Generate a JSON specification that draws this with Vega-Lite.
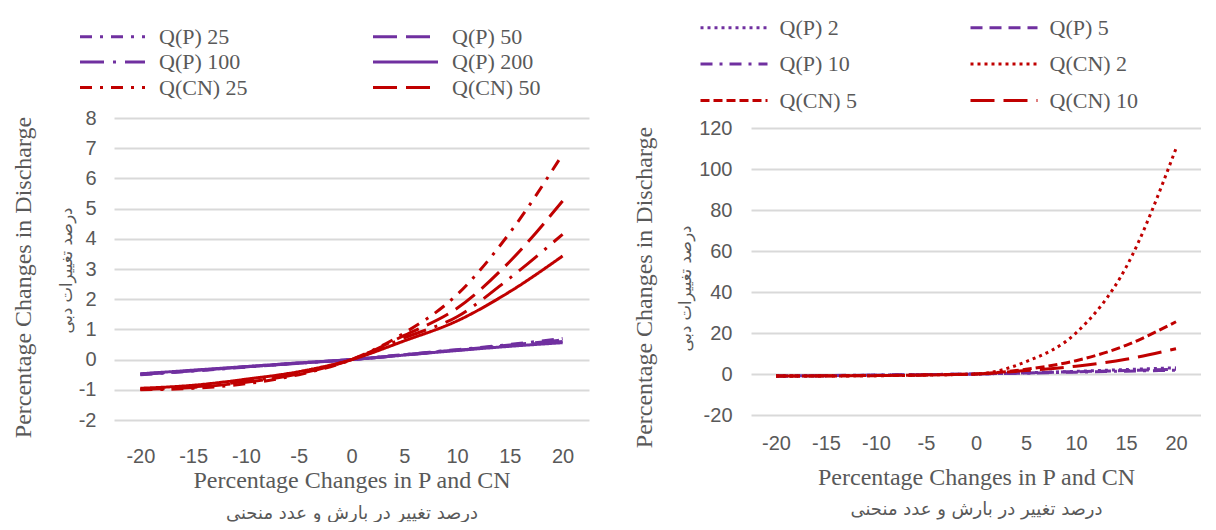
{
  "$schema": "https://vega.github.io/schema/vega-lite/v6.json",
  "padding": {"left": 11, "top": 16, "right": 0, "bottom": 0},
  "background": "white",
  "config": {
    "view": {"stroke": null},
    "axis": {"labelFont": "Liberation Sans", "labelFontSize": 20, "labelColor": "#595959", "titleColor": "#595959", "titleFontWeight": "normal", "domain": false, "ticks": false, "gridColor": "#d9d9d9", "gridWidth": 2, "labelExpr": "'' + datum.value"},
    "legend": {"labelFont": "Liberation Serif", "labelFontSize": 22, "labelColor": "#595959", "symbolStrokeWidth": 3, "padding": 0, "orient": "none", "direction": "horizontal", "columns": 2, "symbolSize": 400}
  },
  "datasets": {
    "left": [
      {"series": "Q(P) 25", "x": -20, "y": -0.5}, {"series": "Q(P) 25", "x": -15, "y": -0.38}, {"series": "Q(P) 25", "x": -10, "y": -0.25}, {"series": "Q(P) 25", "x": -5, "y": -0.12}, {"series": "Q(P) 25", "x": 0, "y": 0}, {"series": "Q(P) 25", "x": 5, "y": 0.17}, {"series": "Q(P) 25", "x": 10, "y": 0.33}, {"series": "Q(P) 25", "x": 15, "y": 0.5}, {"series": "Q(P) 25", "x": 20, "y": 0.7},
      {"series": "Q(P) 50", "x": -20, "y": -0.49}, {"series": "Q(P) 50", "x": -15, "y": -0.37}, {"series": "Q(P) 50", "x": -10, "y": -0.24}, {"series": "Q(P) 50", "x": -5, "y": -0.12}, {"series": "Q(P) 50", "x": 0, "y": 0}, {"series": "Q(P) 50", "x": 5, "y": 0.16}, {"series": "Q(P) 50", "x": 10, "y": 0.32}, {"series": "Q(P) 50", "x": 15, "y": 0.48}, {"series": "Q(P) 50", "x": 20, "y": 0.65},
      {"series": "Q(P) 100", "x": -20, "y": -0.48}, {"series": "Q(P) 100", "x": -15, "y": -0.36}, {"series": "Q(P) 100", "x": -10, "y": -0.24}, {"series": "Q(P) 100", "x": -5, "y": -0.11}, {"series": "Q(P) 100", "x": 0, "y": 0}, {"series": "Q(P) 100", "x": 5, "y": 0.15}, {"series": "Q(P) 100", "x": 10, "y": 0.31}, {"series": "Q(P) 100", "x": 15, "y": 0.46}, {"series": "Q(P) 100", "x": 20, "y": 0.6},
      {"series": "Q(P) 200", "x": -20, "y": -0.47}, {"series": "Q(P) 200", "x": -15, "y": -0.35}, {"series": "Q(P) 200", "x": -10, "y": -0.23}, {"series": "Q(P) 200", "x": -5, "y": -0.11}, {"series": "Q(P) 200", "x": 0, "y": 0}, {"series": "Q(P) 200", "x": 5, "y": 0.15}, {"series": "Q(P) 200", "x": 10, "y": 0.3}, {"series": "Q(P) 200", "x": 15, "y": 0.44}, {"series": "Q(P) 200", "x": 20, "y": 0.56},
      {"series": "Q(CN) 25", "x": -20, "y": -1.0}, {"series": "Q(CN) 25", "x": -15, "y": -0.95}, {"series": "Q(CN) 25", "x": -10, "y": -0.8}, {"series": "Q(CN) 25", "x": -5, "y": -0.5}, {"series": "Q(CN) 25", "x": 0, "y": 0}, {"series": "Q(CN) 25", "x": 5, "y": 0.88}, {"series": "Q(CN) 25", "x": 10, "y": 2.15}, {"series": "Q(CN) 25", "x": 15, "y": 4.2}, {"series": "Q(CN) 25", "x": 20, "y": 6.8},
      {"series": "Q(CN) 50", "x": -20, "y": -0.98}, {"series": "Q(CN) 50", "x": -15, "y": -0.92}, {"series": "Q(CN) 50", "x": -10, "y": -0.75}, {"series": "Q(CN) 50", "x": -5, "y": -0.47}, {"series": "Q(CN) 50", "x": 0, "y": 0}, {"series": "Q(CN) 50", "x": 5, "y": 0.8}, {"series": "Q(CN) 50", "x": 10, "y": 1.7}, {"series": "Q(CN) 50", "x": 15, "y": 3.25}, {"series": "Q(CN) 50", "x": 20, "y": 5.25},
      {"series": "Q(CN) 100", "x": -20, "y": -0.97}, {"series": "Q(CN) 100", "x": -15, "y": -0.9}, {"series": "Q(CN) 100", "x": -10, "y": -0.72}, {"series": "Q(CN) 100", "x": -5, "y": -0.44}, {"series": "Q(CN) 100", "x": 0, "y": 0}, {"series": "Q(CN) 100", "x": 5, "y": 0.72}, {"series": "Q(CN) 100", "x": 10, "y": 1.42}, {"series": "Q(CN) 100", "x": 15, "y": 2.7}, {"series": "Q(CN) 100", "x": 20, "y": 4.15},
      {"series": "Q(CN) 200", "x": -20, "y": -0.95}, {"series": "Q(CN) 200", "x": -15, "y": -0.85}, {"series": "Q(CN) 200", "x": -10, "y": -0.65}, {"series": "Q(CN) 200", "x": -5, "y": -0.4}, {"series": "Q(CN) 200", "x": 0, "y": 0}, {"series": "Q(CN) 200", "x": 5, "y": 0.62}, {"series": "Q(CN) 200", "x": 10, "y": 1.28}, {"series": "Q(CN) 200", "x": 15, "y": 2.25}, {"series": "Q(CN) 200", "x": 20, "y": 3.43}
    ],
    "right": [
      {"series": "Q(P) 2", "x": -20, "y": -1}, {"series": "Q(P) 2", "x": -15, "y": -0.8}, {"series": "Q(P) 2", "x": -10, "y": -0.6}, {"series": "Q(P) 2", "x": -5, "y": -0.3}, {"series": "Q(P) 2", "x": 0, "y": 0}, {"series": "Q(P) 2", "x": 5, "y": 0.6}, {"series": "Q(P) 2", "x": 10, "y": 1.3}, {"series": "Q(P) 2", "x": 15, "y": 2.2}, {"series": "Q(P) 2", "x": 20, "y": 3.0},
      {"series": "Q(P) 5", "x": -20, "y": -1}, {"series": "Q(P) 5", "x": -15, "y": -0.8}, {"series": "Q(P) 5", "x": -10, "y": -0.55}, {"series": "Q(P) 5", "x": -5, "y": -0.3}, {"series": "Q(P) 5", "x": 0, "y": 0}, {"series": "Q(P) 5", "x": 5, "y": 0.5}, {"series": "Q(P) 5", "x": 10, "y": 1.1}, {"series": "Q(P) 5", "x": 15, "y": 1.7}, {"series": "Q(P) 5", "x": 20, "y": 2.3},
      {"series": "Q(P) 10", "x": -20, "y": -1}, {"series": "Q(P) 10", "x": -15, "y": -0.75}, {"series": "Q(P) 10", "x": -10, "y": -0.5}, {"series": "Q(P) 10", "x": -5, "y": -0.25}, {"series": "Q(P) 10", "x": 0, "y": 0}, {"series": "Q(P) 10", "x": 5, "y": 0.45}, {"series": "Q(P) 10", "x": 10, "y": 0.9}, {"series": "Q(P) 10", "x": 15, "y": 1.4}, {"series": "Q(P) 10", "x": 20, "y": 1.8},
      {"series": "Q(CN) 2", "x": -20, "y": -1}, {"series": "Q(CN) 2", "x": -15, "y": -0.95}, {"series": "Q(CN) 2", "x": -10, "y": -0.85}, {"series": "Q(CN) 2", "x": -5, "y": -0.5}, {"series": "Q(CN) 2", "x": 0, "y": 0}, {"series": "Q(CN) 2", "x": 5, "y": 6}, {"series": "Q(CN) 2", "x": 10, "y": 20}, {"series": "Q(CN) 2", "x": 15, "y": 52}, {"series": "Q(CN) 2", "x": 20, "y": 110},
      {"series": "Q(CN) 5", "x": -20, "y": -1}, {"series": "Q(CN) 5", "x": -15, "y": -0.95}, {"series": "Q(CN) 5", "x": -10, "y": -0.8}, {"series": "Q(CN) 5", "x": -5, "y": -0.5}, {"series": "Q(CN) 5", "x": 0, "y": 0}, {"series": "Q(CN) 5", "x": 5, "y": 2.3}, {"series": "Q(CN) 5", "x": 10, "y": 6.5}, {"series": "Q(CN) 5", "x": 15, "y": 14}, {"series": "Q(CN) 5", "x": 20, "y": 25.5},
      {"series": "Q(CN) 10", "x": -20, "y": -1}, {"series": "Q(CN) 10", "x": -15, "y": -0.9}, {"series": "Q(CN) 10", "x": -10, "y": -0.75}, {"series": "Q(CN) 10", "x": -5, "y": -0.45}, {"series": "Q(CN) 10", "x": 0, "y": 0}, {"series": "Q(CN) 10", "x": 5, "y": 1.7}, {"series": "Q(CN) 10", "x": 10, "y": 3.8}, {"series": "Q(CN) 10", "x": 15, "y": 7.2}, {"series": "Q(CN) 10", "x": 20, "y": 12.3}
    ]
  },
  "spacing": 43,
  "resolve": {"scale": {"color": "independent", "strokeDash": "independent"}, "legend": {"color": "independent", "strokeDash": "independent"}},
  "hconcat": [
    {
      "width": 475,
      "height": 302,
      "data": {"name": "left"},
      "encoding": {
        "color": {"field": "series", "type": "nominal",
          "scale": {"domain": ["Q(P) 25", "Q(P) 50", "Q(P) 100", "Q(P) 200", "Q(CN) 25", "Q(CN) 50", "Q(CN) 100", "Q(CN) 200"], "range": ["#7030A0", "#7030A0", "#7030A0", "#7030A0", "#C00000", "#C00000", "#C00000", "#C00000"]},
          "legend": {"title": null, "values": ["Q(P) 25", "Q(P) 50", "Q(P) 100", "Q(P) 200", "Q(CN) 25", "Q(CN) 50"], "symbolType": "M-3.25,0L3.25,0", "labelOffset": 35, "columnPadding": 119, "rowPadding": 2.5, "legendX": -13, "legendY": -93}},
        "strokeDash": {"field": "series", "type": "nominal",
          "scale": {"domain": ["Q(P) 25", "Q(P) 50", "Q(P) 100", "Q(P) 200", "Q(CN) 25", "Q(CN) 50", "Q(CN) 100", "Q(CN) 200"], "range": [[12, 8, 3, 8], [24, 9], [24, 9, 3, 9], [1, 0], [12, 8, 3, 8], [24, 9], [24, 9, 3, 9], [1, 0]]},
          "legend": {"title": null, "values": ["Q(P) 25", "Q(P) 50", "Q(P) 100", "Q(P) 200", "Q(CN) 25", "Q(CN) 50"], "symbolType": "M-3.25,0L3.25,0", "labelOffset": 35, "columnPadding": 119, "rowPadding": 2.5, "legendX": -13, "legendY": -93}}
      },
      "layer": [
        {
          "transform": [{"filter": "indexof(datum.series, 'Q(P)') === 0"}],
          "mark": {"type": "line", "strokeWidth": 3, "interpolate": "monotone"},
          "encoding": {
            "x": {"field": "x", "type": "quantitative", "scale": {"domain": [-22.5, 22.5], "nice": false, "zero": false},
              "axis": {"values": [-20, -15, -10, -5, 0, 5, 10, 15, 20], "grid": false, "labelPadding": 26, "title": "درصد تغییر در بارش و عدد منحنی", "titleFont": "DejaVu Sans", "titleFontSize": 18, "titlePadding": 38}},
            "y": {"field": "y", "type": "quantitative", "scale": {"domain": [-2, 8], "nice": false},
              "axis": {"values": [-2, -1, 0, 1, 2, 3, 4, 5, 6, 7, 8], "grid": true, "labelPadding": 18, "title": "درصد تغییرات دبی", "titleFont": "DejaVu Sans", "titleFontSize": 16.5, "titlePadding": 4, "titleY": 152}}
          }
        },
        {
          "transform": [{"filter": "indexof(datum.series, 'Q(CN)') === 0"}],
          "mark": {"type": "line", "strokeWidth": 3, "interpolate": "monotone"},
          "encoding": {
            "x": {"field": "x", "type": "quantitative", "scale": {"domain": [-22.5, 22.5], "nice": false, "zero": false},
              "axis": {"orient": "bottom", "labels": false, "grid": false, "title": "Percentage Changes in P and CN", "titleFont": "Liberation Serif", "titleFontSize": 24, "titlePadding": 48}},
            "y": {"field": "y", "type": "quantitative", "scale": {"domain": [-2, 8], "nice": false},
              "axis": {"orient": "left", "labels": false, "grid": false, "title": "Percentage Changes in Discharge", "titleFont": "Liberation Serif", "titleFontSize": 24, "titlePadding": 79, "titleY": 159}}
          }
        }
      ],
      "resolve": {"axis": {"x": "independent", "y": "independent"}}
    },
    {
      "width": 450,
      "height": 297,
      "data": {"name": "right"},
      "encoding": {
        "color": {"field": "series", "type": "nominal",
          "scale": {"domain": ["Q(P) 2", "Q(P) 5", "Q(P) 10", "Q(CN) 2", "Q(CN) 5", "Q(CN) 10"], "range": ["#7030A0", "#7030A0", "#7030A0", "#C00000", "#C00000", "#C00000"]},
          "legend": {"title": null, "symbolType": "M-3.35,0L3.35,0", "labelOffset": 34, "columnPadding": 107, "rowPadding": 13.5, "legendX": -28.5, "legendY": -102}},
        "strokeDash": {"field": "series", "type": "nominal",
          "scale": {"domain": ["Q(P) 2", "Q(P) 5", "Q(P) 10", "Q(CN) 2", "Q(CN) 5", "Q(CN) 10"], "range": [[3, 4], [12, 7], [12, 7, 3, 7], [3, 4], [9, 4], [24, 9]]},
          "legend": {"title": null, "symbolType": "M-3.35,0L3.35,0", "labelOffset": 34, "columnPadding": 107, "rowPadding": 13.5, "legendX": -28.5, "legendY": -102}}
      },
      "layer": [
        {
          "transform": [{"filter": "indexof(datum.series, 'Q(P)') === 0"}],
          "mark": {"type": "line", "strokeWidth": 3, "interpolate": "monotone"},
          "encoding": {
            "x": {"field": "x", "type": "quantitative", "scale": {"domain": [-22.5, 22.5], "nice": false, "zero": false},
              "axis": {"values": [-20, -15, -10, -5, 0, 5, 10, 15, 20], "grid": false, "labelPadding": 18, "title": "درصد تغییر در بارش و عدد منحنی", "titleFont": "DejaVu Sans", "titleFontSize": 18, "titlePadding": 47}},
            "y": {"field": "y", "type": "quantitative", "scale": {"domain": [-20, 120], "nice": false, "range": [297, 10]},
              "axis": {"values": [-20, 0, 20, 40, 60, 80, 100, 120], "grid": true, "labelPadding": 19, "title": "درصد تغییرات دبی", "titleFont": "DejaVu Sans", "titleFontSize": 16.5, "titlePadding": 5, "titleY": 170}}
          }
        },
        {
          "transform": [{"filter": "indexof(datum.series, 'Q(CN)') === 0"}],
          "mark": {"type": "line", "strokeWidth": 3, "interpolate": "monotone"},
          "encoding": {
            "x": {"field": "x", "type": "quantitative", "scale": {"domain": [-22.5, 22.5], "nice": false, "zero": false},
              "axis": {"orient": "bottom", "labels": false, "grid": false, "title": "Percentage Changes in P and CN", "titleFont": "Liberation Serif", "titleFontSize": 24, "titlePadding": 50}},
            "y": {"field": "y", "type": "quantitative", "scale": {"domain": [-20, 120], "nice": false, "range": [297, 10]},
              "axis": {"orient": "left", "labels": false, "grid": false, "title": "Percentage Changes in Discharge", "titleFont": "Liberation Serif", "titleFontSize": 24, "titlePadding": 95, "titleY": 169}}
          }
        }
      ],
      "resolve": {"axis": {"x": "independent", "y": "independent"}}
    }
  ]
}
